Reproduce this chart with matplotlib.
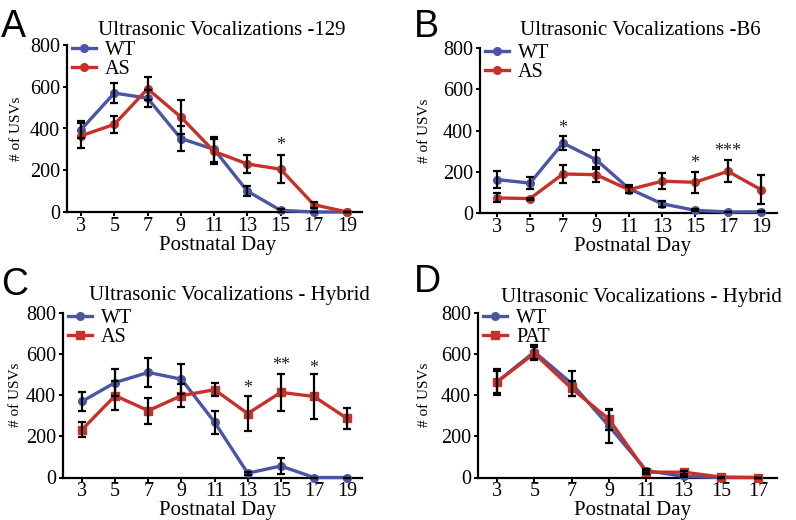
import matplotlib
matplotlib.use("Agg")
import matplotlib.pyplot as plt

# ---------------- data ----------------
days_full = [3, 5, 7, 9, 11, 13, 15, 17, 19]
days_d = [3, 5, 7, 9, 11, 13, 15, 17]

a_wt = [395, 570, 545, 352, 300, 100, 8, 0, 0]
a_wt_err = [40, 48, 40, 60, 60, 24, 8, 0, 0]
a_as = [365, 420, 590, 455, 290, 230, 205, 35, 0]
a_as_err = [60, 40, 55, 80, 62, 45, 68, 15, 0]

b_wt = [162, 145, 339, 259, 118, 45, 13, 5, 6]
b_wt_err = [40, 30, 33, 45, 20, 15, 5, 2, 2]
b_as = [73, 70, 189, 186, 113, 154, 149, 202, 113]
b_as_err = [22, 5, 42, 35, 15, 38, 50, 54, 70]

c_wt = [370, 462, 511, 478, 269, 21, 56, 0, 0]
c_wt_err = [48, 65, 72, 74, 56, 8, 40, 0, 0]
c_as = [233, 398, 325, 398, 427, 311, 414, 394, 287]
c_as_err = [35, 72, 64, 55, 33, 87, 90, 108, 52]

d_wt = [465, 611, 457, 250, 34, 5, 0, 0]
d_wt_err = [65, 35, 60, 80, 8, 3, 0, 0]
d_pat = [465, 603, 433, 283, 26, 26, 2, 0]
d_pat_err = [55, 30, 37, 50, 10, 8, 2, 0]

yticks = [0, 200, 400, 600, 800]

titles = ["Ultrasonic Vocalizations -129", "Ultrasonic Vocalizations -B6",
          "Ultrasonic Vocalizations - Hybrid", "Ultrasonic Vocalizations - Hybrid"]
letters = ["A", "B", "C", "D"]

stars_a = [(15, 320, "*")]
stars_b = [(7, 412, "*"), (15, 242, "*"), (17, 299, "***")]
stars_c = [(13, 435, "*"), (15, 543, "**"), (17, 531, "*")]
stars_d = []

BLUE = "#4B55A5"
RED = "#C8302A"
SERIF = "Liberation Serif"
SANS = "Liberation Sans"

W, H = 796, 520
fig = plt.figure(figsize=(W / 100, H / 100), dpi=100)


def px_axes(left, right, bottom, top):
    return fig.add_axes([left / W, 1 - bottom / H, (right - left) / W, (bottom - top) / H])


panels = [
    dict(box=(67, 362, 212, 45), xlim=(2.15, 19.9), x=days_full,
         s1=(a_wt, a_wt_err, "WT", "o"), s2=(a_as, a_as_err, "AS", "o"),
         stars=stars_a, title_c=(222, 35), letter=(1, 37), ylab_x=23, xlab_c=218),
    dict(box=(480, 777, 213, 48), xlim=(1.97, 19.97), x=days_full,
         s1=(b_wt, b_wt_err, "WT", "o"), s2=(b_as, b_as_err, "AS", "o"),
         stars=stars_b, title_c=(640, 35), letter=(414, 37), ylab_x=431, xlab_c=633),
    dict(box=(63, 362, 477.5, 313), xlim=(1.85, 19.9), x=days_full,
         s1=(c_wt, c_wt_err, "WT", "o"), s2=(c_as, c_as_err, "AS", "s"),
         stars=stars_c, title_c=(229, 300), letter=(1, 295), ylab_x=22, xlab_c=218),
    dict(box=(478, 777, 477.5, 313), xlim=(1.98, 18.0), x=days_d,
         s1=(d_wt, d_wt_err, "WT", "o"), s2=(d_pat, d_pat_err, "PAT", "s"),
         stars=stars_d, title_c=(641, 302), letter=(414, 292), ylab_x=431, xlab_c=633),
]

for i, p in enumerate(panels):
    left, right, bottom, top = p["box"]
    ax = px_axes(*p["box"])
    x = p["x"]
    handles = []
    for (vals, errs, lab, mk), col in [(p["s1"], BLUE), (p["s2"], RED)]:
        h, = ax.plot(x, vals, color=col, lw=2.4, marker=mk, ms=5.5,
                     mec=col, mfc=col, clip_on=False, zorder=3, label=lab)
        handles.append(h)
    for (vals, errs, lab, mk) in [p["s1"], p["s2"]]:
        ax.errorbar(x, vals, yerr=errs, fmt="none", ecolor="black", elinewidth=1.6,
                    capsize=3.0, capthick=1.6, zorder=4, clip_on=False)
    for (xs, ys, txt) in p["stars"]:
        ax.text(xs, ys, txt, ha="center", va="center", fontsize=13,
                family=SERIF, color="#222222")
    ax.set_xlim(*p["xlim"])
    ax.set_ylim(0, 800)
    ax.set_xticks(x)
    ax.set_yticks(yticks)
    for s in ["top", "right"]:
        ax.spines[s].set_visible(False)
    for s in ["left", "bottom"]:
        ax.spines[s].set_linewidth(1.6)
    ax.tick_params(axis="both", direction="out", length=3, width=1.4, labelsize=14.5)
    ax.tick_params(axis="x", pad=0.5)
    ax.tick_params(axis="y", pad=2.0)
    for t in ax.get_xticklabels() + ax.get_yticklabels():
        t.set_family(SERIF)
    ax.set_xlabel("Postnatal Day", family=SERIF, fontsize=15, va="top")
    ax.xaxis.set_label_coords((p["xlab_c"] - left) / (right - left),
                              -23.6 / (bottom - top))
    ax.set_ylabel("# of USVs", family=SERIF, fontsize=11)
    ax.yaxis.set_label_coords((p["ylab_x"] - left) / (right - left), 0.5)
    ax.legend(handles=handles, loc="upper left",
              bbox_to_anchor=(5 / (right - left), 1 + 4 / (bottom - top)),
              frameon=False, prop=dict(family=SERIF, size=14.5),
              handlelength=1.2, handletextpad=0.45, labelspacing=0.0,
              borderaxespad=0.0, borderpad=0.0)
    fig.text(p["title_c"][0] / W, 1 - p["title_c"][1] / H, titles[i],
             ha="center", va="baseline", family=SERIF, fontsize=15)
    fig.text(p["letter"][0] / W, 1 - p["letter"][1] / H, letters[i],
             ha="left", va="baseline", family=SANS, fontsize=27)

fig.savefig("out.png", dpi=100)
